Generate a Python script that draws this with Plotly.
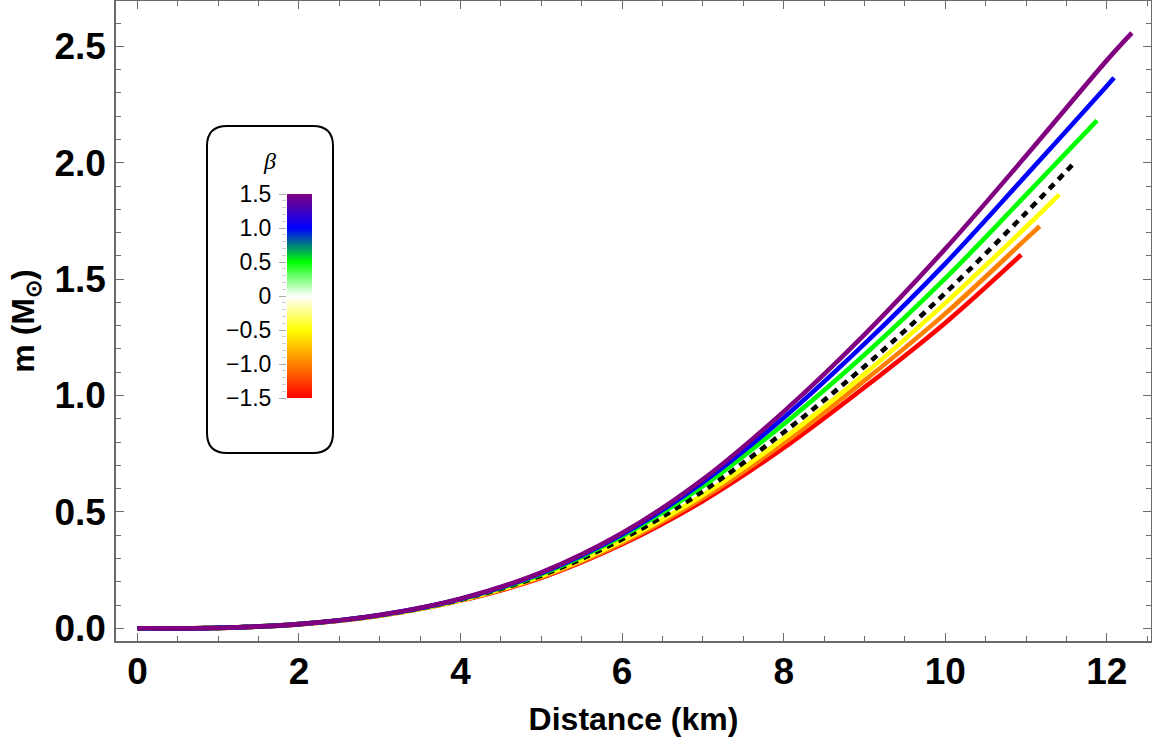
import numpy as np
import plotly.graph_objects as go

# ---- data ----
beta_values = [-1.5, -1.0, -0.5, 0.0, 0.5, 1.0, 1.5]

r_red = [0, 1, 2, 3, 4, 5, 6, 7, 8, 9, 10, 10.94]
m_red = [0, 0.002, 0.017, 0.054, 0.119, 0.217, 0.361, 0.547, 0.775, 1.035, 1.312, 1.605]

r_orange = [0, 1, 2, 3, 4, 5, 6, 7, 8, 9, 10, 11, 11.17]
m_orange = [0, 0.002, 0.018, 0.055, 0.120, 0.220, 0.367, 0.560, 0.795, 1.064, 1.352, 1.673, 1.727]

r_yellow = [0, 1, 2, 3, 4, 5, 6, 7, 8, 9, 10, 11, 11.41]
m_yellow = [0, 0.002, 0.018, 0.055, 0.121, 0.224, 0.375, 0.573, 0.815, 1.092, 1.397, 1.724, 1.863]

r_black = [0, 1, 2, 3, 4, 5, 6, 7, 8, 9, 10, 11, 11.62]
m_black = [0, 0.002, 0.018, 0.056, 0.123, 0.227, 0.383, 0.589, 0.842, 1.125, 1.440, 1.785, 2.008]

r_green = [0, 1, 2, 3, 4, 5, 6, 7, 8, 9, 10, 11, 11.88]
m_green = [0, 0.002, 0.018, 0.056, 0.125, 0.233, 0.396, 0.611, 0.877, 1.175, 1.503, 1.862, 2.182]

r_blue = [0, 1, 2, 3, 4, 5, 6, 7, 8, 9, 10, 11, 12, 12.09]
m_blue = [0, 0.002, 0.018, 0.057, 0.126, 0.237, 0.403, 0.627, 0.905, 1.222, 1.567, 1.946, 2.330, 2.365]

r_purple = [0, 1, 2, 3, 4, 5, 6, 7, 8, 9, 10, 11, 12, 12.31]
m_purple = [0, 0.002, 0.018, 0.057, 0.127, 0.240, 0.409, 0.640, 0.931, 1.262, 1.630, 2.030, 2.440, 2.558]

x_ticks = [0, 2, 4, 6, 8, 10, 12]
y_ticks = [0.0, 0.5, 1.0, 1.5, 2.0, 2.5]
y_ticklabels = ["0.0", "0.5", "1.0", "1.5", "2.0", "2.5"]
cb_ticks = [-1.5, -1.0, -0.5, 0, 0.5, 1.0, 1.5]
cb_ticklabels = ["\u22121.5", "\u22121.0", "\u22120.5", "0", "0.5", "1.0", "1.5"]

colorscale = [[0.0, "#FF0000"], [1/6, "#FF8000"], [2/6, "#FFFF00"], [0.5, "#FFFFFF"],
              [4/6, "#00FF00"], [5/6, "#0000FF"], [1.0, "#800080"]]

# ---- figure ----
W, H = 1152, 743
ML, MR, MT, MB = 116, 1, 1, 102
PW, PH = W - ML - MR, H - MT - MB

def px2x(px):
    return (px - ML) / PW

def py2y(py):
    return (H - MB - py) / PH

fig = go.Figure()

series = [
    (r_red, m_red, "#FF0000", "solid"),
    (r_orange, m_orange, "#FF8000", "solid"),
    (r_yellow, m_yellow, "#FFFF00", "solid"),
    (r_black, m_black, "#000000", "7px,6px"),
    (r_green, m_green, "#00FF00", "solid"),
    (r_blue, m_blue, "#0000FF", "solid"),
    (r_purple, m_purple, "#800080", "solid"),
]
for (rr, mm, col, dash), b in zip(series, beta_values):
    fig.add_trace(go.Scatter(
        x=rr, y=mm, mode="lines", line=dict(color=col, width=4.6, dash=dash, shape="spline", smoothing=1.0),
        name=f"beta={b}", showlegend=False, hoverinfo="skip"))

# colour bar legend drawn as a heatmap on its own small axis
grad = np.linspace(-1.5, 1.5, 301)
fig.add_trace(go.Heatmap(
    z=[[v] for v in grad], x=[0], y=grad, colorscale=colorscale, zmin=-1.5, zmax=1.5,
    showscale=False, xaxis="x2", yaxis="y2", hoverinfo="skip"))

tickfont = dict(family="Liberation Sans, Arial, sans-serif", size=37, color="black", weight="bold")
titlefont = dict(family="Liberation Sans, Arial, sans-serif", size=32, color="black", weight="bold")
frame = "#6b6b6b"

fig.update_layout(
    width=W, height=H,
    margin=dict(l=ML, r=MR, t=MT, b=MB, autoexpand=False),
    paper_bgcolor="white", plot_bgcolor="white",
    xaxis=dict(
        range=[-0.265, 12.547], tickvals=x_ticks, ticktext=[str(v) for v in x_ticks],
        ticks="inside", ticklen=8, tickwidth=1.2, tickcolor=frame,
        minor=dict(ticks="inside", dtick=0.5, ticklen=5, tickwidth=1.2, tickcolor=frame),
        showline=True, linecolor=frame, linewidth=1.5, mirror="allticks",
        showgrid=False, zeroline=False, tickfont=tickfont, ticklabelstandoff=-3, automargin=False,
        title=dict(text="Distance (km)", font=titlefont, standoff=16),
    ),
    yaxis=dict(
        range=[-0.0545, 2.695], tickvals=y_ticks, ticktext=y_ticklabels,
        ticks="inside", ticklen=8, tickwidth=1.2, tickcolor=frame,
        minor=dict(ticks="inside", dtick=0.1, ticklen=5, tickwidth=1.2, tickcolor=frame),
        showline=True, linecolor=frame, linewidth=1.5, mirror="allticks",
        showgrid=False, zeroline=False, tickfont=tickfont, ticklabelstandoff=1, automargin=False,
        title=dict(text="m (M<sub>\u2299</sub>)", font=titlefont, standoff=10),
    ),
    xaxis2=dict(domain=[px2x(287), px2x(312)], anchor="y2", showticklabels=False, ticks="",
                showgrid=False, zeroline=False, showline=False, fixedrange=True, automargin=False),
    yaxis2=dict(domain=[py2y(398), py2y(194)], anchor="x2", range=[-1.5, 1.5], side="left",
                tickvals=cb_ticks, ticktext=cb_ticklabels, ticks="outside", ticklen=7,
                tickcolor="#aaaaaa", tickwidth=1, automargin=False,
                minor=dict(ticks="outside", dtick=0.1, ticklen=4, tickcolor="#cccccc", tickwidth=1),
                showgrid=False, zeroline=False, showline=False, ticklabelstandoff=3,
                tickfont=dict(family="Liberation Sans, Arial, sans-serif", size=23, color="black")),
)

# rounded legend box
bx0, bx1, by0, by1, rad = 207, 333, 126, 453, 20
rx, ry = rad / PW, rad / PH
x0, x1 = px2x(bx0), px2x(bx1)
yt, yb = py2y(by0), py2y(by1)
path = (f"M {x0+rx},{yt} L {x1-rx},{yt} Q {x1},{yt} {x1},{yt-ry} "
        f"L {x1},{yb+ry} Q {x1},{yb} {x1-rx},{yb} L {x0+rx},{yb} Q {x0},{yb} {x0},{yb+ry} "
        f"L {x0},{yt-ry} Q {x0},{yt} {x0+rx},{yt} Z")
fig.add_shape(type="path", path=path, xref="paper", yref="paper",
              line=dict(color="black", width=2), fillcolor="white", layer="below")

fig.add_annotation(x=px2x(269.5), y=py2y(161), xref="paper", yref="paper", text="<i>\u03b2</i>",
                   xanchor="center", yanchor="middle", showarrow=False,
                   font=dict(family="Liberation Serif, Times New Roman, serif", size=24, color="black"))

fig.write_html("out.html", config={"displayModeBar": False},
               post_script="document.body.style.margin='0px';")
